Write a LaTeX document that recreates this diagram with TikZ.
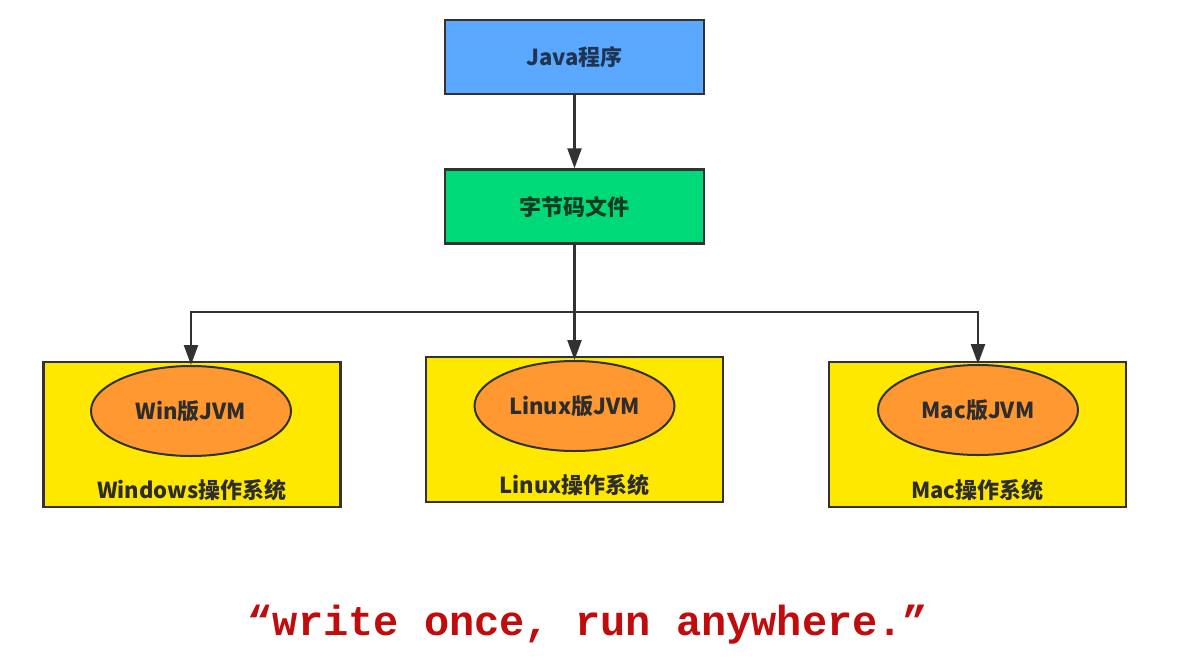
\documentclass[tikz,border=0pt]{standalone}
\usepackage{fontspec}
\setmainfont{Noto Sans CJK SC}
\newfontfamily\monofont{Liberation Mono}
\usetikzlibrary{arrows.meta,shapes.geometric}
\definecolor{javablue}{RGB}{90,168,255}
\definecolor{bytegreen}{RGB}{0,217,120}
\definecolor{osyellow}{RGB}{255,232,0}
\definecolor{jvmorange}{RGB}{255,152,48}
\definecolor{edgegray}{RGB}{50,50,50}
\definecolor{javatext}{RGB}{30,52,80}
\definecolor{greentext}{RGB}{15,60,35}
\definecolor{ostext}{RGB}{45,45,45}
\definecolor{quotered}{RGB}{192,12,12}
\begin{document}
\begin{tikzpicture}[x=1pt,y=-1pt,
  topbox/.style={draw=edgegray,line width=2.4pt,minimum width=259pt,minimum height=74pt,inner sep=0pt,font=\fontsize{22}{26}\selectfont\bfseries},
  osbox/.style={draw=edgegray,line width=2.4pt,fill=osyellow,minimum width=297pt,minimum height=145pt,inner sep=0pt},
  jvm/.style={ellipse,draw=edgegray,line width=2pt,fill=jvmorange,minimum width=200pt,minimum height=90pt,inner sep=0pt,text=ostext,font=\fontsize{22}{26}\selectfont\bfseries},
  oslabel/.style={text=ostext,font=\fontsize{22}{26}\selectfont\bfseries,inner sep=0pt},
  conn/.style={draw=edgegray,line width=2.4pt},
  arr/.style={conn,-{Triangle[width=14pt,length=20pt]}}]
\useasboundingbox[fill=white] (0,0) rectangle (1178,665);
% top boxes
\node[topbox,fill=javablue,text=javatext] (java) at (574.5,57) {Java程序};
\node[topbox,fill=bytegreen,text=greentext] (byte) at (574.5,206.5) {字节码文件};
% OS boxes
\node[osbox] (winos) at (192,434.5) {};
\node[osbox] (linos) at (574.5,429.5) {};
\node[osbox] (macos) at (977.5,434.5) {};
% JVM ellipses
\node[jvm] (winjvm) at (191,411) {Win版JVM};
\node[jvm] (linjvm) at (574.5,406) {Linux版JVM};
\node[jvm] (macjvm) at (978,410) {Mac版JVM};
% OS labels
\node[oslabel] (winlab) at (192,490) {Windows操作系统};
\node[oslabel] (linlab) at (574.5,485) {Linux操作系统};
\node[oslabel] (maclab) at (977.5,490) {Mac操作系统};
% connectors
\coordinate (j) at (574.5,312);
\draw[arr] (java) -- (byte);
\draw[conn] (byte.south) -- (j);
\draw[arr] (j) -| (winjvm.north);
\draw[arr] (j) -| (macjvm.north);
\draw[arr] (j) -- (linjvm.north);
% motto
\node[text=quotered,font=\monofont\bfseries\fontsize{42}{48}\selectfont,inner sep=0pt] (motto) at (588,625) {“write once, run anywhere.”};
\end{tikzpicture}
\end{document}
